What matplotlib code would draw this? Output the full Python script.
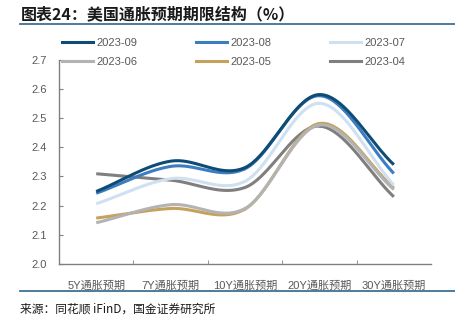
import numpy as np
import matplotlib
matplotlib.use("Agg")
import matplotlib.pyplot as plt
from matplotlib.lines import Line2D

plt.rcParams['font.family'] = ['Liberation Sans', 'Noto Sans CJK SC', 'DejaVu Sans']

categories = ['5Y通胀预期', '7Y通胀预期', '10Y通胀预期', '20Y通胀预期', '30Y通胀预期']
months = ['2023-09', '2023-08', '2023-07', '2023-06', '2023-05', '2023-04']
s_2023_09 = [2.248, 2.352, 2.33, 2.58, 2.34]
s_2023_08 = [2.242, 2.334, 2.326, 2.576, 2.31]
s_2023_07 = [2.206, 2.292, 2.283, 2.55, 2.27]
s_2023_06 = [2.141, 2.203, 2.19, 2.476, 2.255]
s_2023_05 = [2.157, 2.19, 2.188, 2.481, 2.26]
s_2023_04 = [2.309, 2.287, 2.262, 2.472, 2.23]
series = [s_2023_09, s_2023_08, s_2023_07, s_2023_06, s_2023_05, s_2023_04]
colors = ['#0f4c75', '#3b7dc0', '#cfe0f1', '#b3b3b3', '#c5a25a', '#7f7f7f']


def smooth(x, y, n=40):
    # Catmull-Rom curve through the points, like Excel's smoothed line
    x = np.asarray(x, float)
    y = np.asarray(y, float)
    px = np.concatenate([[2 * x[0] - x[1]], x, [2 * x[-1] - x[-2]]])
    py = np.concatenate([[2 * y[0] - y[1]], y, [2 * y[-1] - y[-2]]])
    xs, ys = [], []
    t = np.linspace(0, 1, n)
    for i in range(1, len(px) - 2):
        for p, out in ((px, xs), (py, ys)):
            p0, p1, p2, p3 = p[i - 1], p[i], p[i + 1], p[i + 2]
            out.append(0.5 * (2 * p1 + (-p0 + p2) * t
                              + (2 * p0 - 5 * p1 + 4 * p2 - p3) * t ** 2
                              + (-p0 + 3 * p1 - 3 * p2 + p3) * t ** 3))
    return np.concatenate(xs), np.concatenate(ys)


fig = plt.figure(figsize=(4.55, 3.21), dpi=100)
ax = fig.add_axes([0.1297, 0.1776, 0.8176, 0.637])

x = np.arange(len(categories))
# draw oldest first so the latest month sits on top
for name, vals, c in reversed(list(zip(months, series, colors))):
    sx, sy = smooth(x, vals)
    ax.plot(sx, sy, color=c, lw=2.2, solid_capstyle='butt')

ax.set_xlim(-0.5, len(categories) - 0.5)
ax.set_ylim(2.0, 2.7)
ax.set_yticks(np.arange(2.0, 2.71, 0.1))
ax.set_yticklabels(['%.1f' % v for v in np.arange(2.0, 2.71, 0.1)])
ax.set_xticks(x)
ax.set_xticklabels(categories)
ax.set_xticks(np.arange(0.5, len(categories) - 0.5, 1.0), minor=True)
ax.tick_params(axis='x', which='major', length=0, pad=12, labelsize=8, colors='#595959')
ax.tick_params(axis='x', which='minor', direction='in', length=3, color='#808080')
ax.tick_params(axis='y', direction='in', length=3, color='#808080', labelsize=8,
               labelcolor='#595959', pad=9)
for s in ['top', 'right']:
    ax.spines[s].set_visible(False)
for s in ['left', 'bottom']:
    ax.spines[s].set_color('#808080')
    ax.spines[s].set_linewidth(1.0)

# legend fills row by row: reorder for matplotlib's column-major layout
order = [0, 3, 1, 4, 2, 5]
handles = [Line2D([], [], color=colors[i], lw=2.2) for i in order]
fig.legend(handles, [months[i] for i in order], ncol=3, loc='upper left',
           bbox_to_anchor=(0.115, 0.913), frameon=False, fontsize=8, handlelength=2.8,
           handletextpad=0.3, columnspacing=5.25, labelspacing=0.8, labelcolor='#595959')

fig.text(0.045, 0.955, '图表24：美国通胀预期期限结构（%）', fontsize=11.5, fontweight='bold',
         style='italic', color='#1a1a1a', va='center', family='Noto Sans CJK SC')
fig.add_artist(Line2D([0.043, 1.0], [0.925, 0.925], color='#3f6f95', lw=1.3))
fig.add_artist(Line2D([0.043, 1.0], [0.094, 0.094], color='#3f6f95', lw=1.3))
fig.text(0.045, 0.038, '来源：同花顺 iFinD，国金证券研究所', fontsize=8.5, color='#1a1a1a',
         va='center', family='Noto Sans CJK SC')

fig.savefig('out.png', dpi=100)
